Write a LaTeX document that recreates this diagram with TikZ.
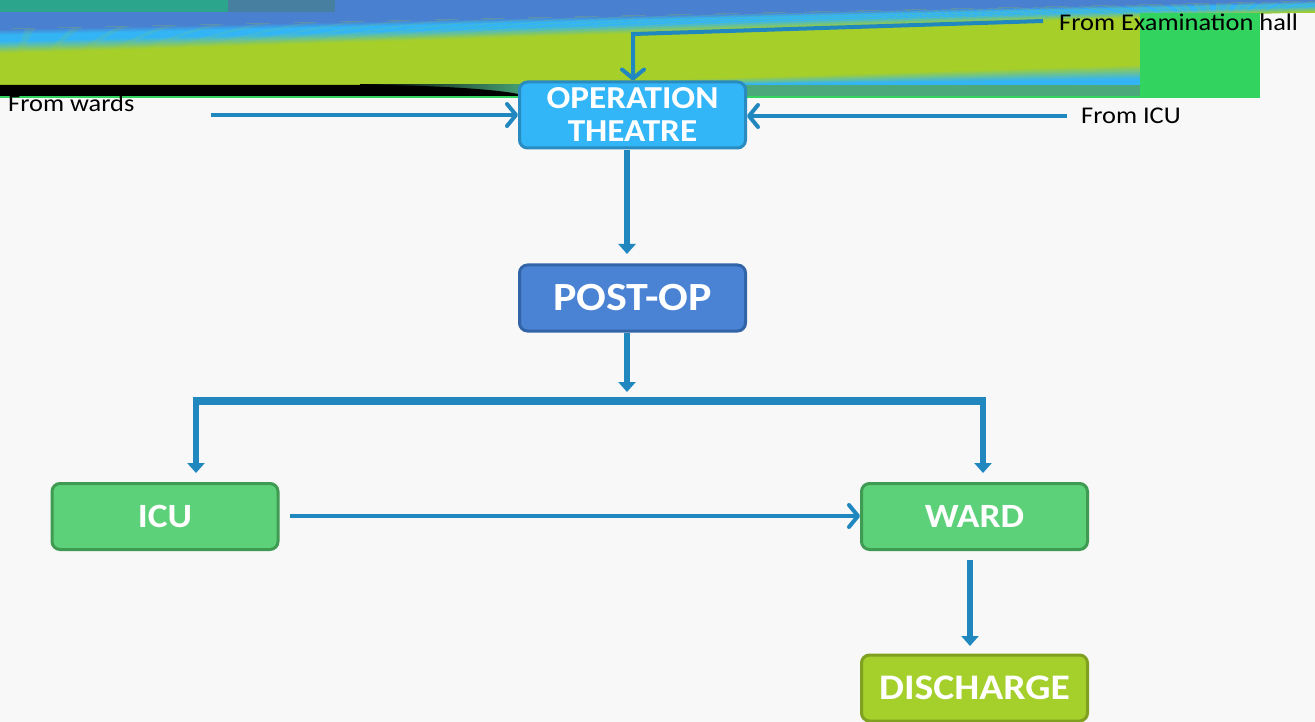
\documentclass[tikz,border=0pt]{standalone}
\usepackage{fontspec}
\setmainfont[FakeStretch=1.1]{Carlito}
\usetikzlibrary{arrows.meta}
\definecolor{bgc}{HTML}{F8F8F8}
\definecolor{ygreen}{HTML}{A6CF2A}
\definecolor{bandblue}{HTML}{4A80D0}
\definecolor{bandcyan}{HTML}{33B5F5}
\definecolor{tealA}{HTML}{2BA58B}
\definecolor{tealB}{HTML}{467FA0}
\definecolor{sqgreen}{HTML}{33D35F}
\definecolor{stripg}{HTML}{4AA87A}
\definecolor{conn}{HTML}{2188BF}
\definecolor{otfill}{HTML}{33B6F7}
\definecolor{otdraw}{HTML}{2A8BC0}
\definecolor{pofill}{HTML}{4A82D4}
\definecolor{podraw}{HTML}{3264A8}
\definecolor{gfill}{HTML}{5CD17A}
\definecolor{gdraw}{HTML}{3F9A52}
\definecolor{dfill}{HTML}{A5CF2A}
\definecolor{ddraw}{HTML}{7FA020}
\begin{document}
\begin{tikzpicture}[x=1pt,y=-1pt,
  box/.style={rounded corners=8pt, line width=3pt, minimum width=226pt, minimum height=66pt,
     text=white, font=\fontsize{34}{34}\selectfont\bfseries, align=center, inner sep=0pt},
  lbl/.style={font=\fontsize{24}{24}\selectfont, text=black, inner sep=0pt},
  chev/.style={conn, line width=4.5pt, -{Straight Barb[length=9pt,width=22pt,line width=4pt,round]}},
  tri/.style={conn, line width=6pt, -{Triangle[length=10pt,width=17pt]}}]
\useasboundingbox (0,0) rectangle (1315,722);
\fill[bgc] (0,0) rectangle (1315,722);
% banner
\fill[ygreen] (0,0) rectangle (1140,85);
\fill[ygreen] (0,0) rectangle (1315,13);
\fill[bandblue] (0,0) -- (1315,0) -- (1315,1) -- (0,29) -- cycle;
\foreach \i in {0,...,23}{
  \pgfmathsetmacro{\ta}{\i/24}
  \pgfmathsetmacro{\tb}{(\i+1.3)/24}
  \pgfmathsetmacro{\la}{29+24*\ta}
  \pgfmathsetmacro{\lb}{29+24*\tb}
  \pgfmathsetmacro{\ra}{1+11*\ta}
  \pgfmathsetmacro{\rb}{1+11*\tb}
  \pgfmathsetmacro{\pc}{\ta<0.25 ? 100*\ta/0.25 : (\ta<0.5 ? 100 : 100*(1-(\ta-0.5)/0.5))}
  \ifnum\i<6
    \colorlet{cc}{bandcyan!\pc!bandblue}
  \else
    \colorlet{cc}{bandcyan!\pc!ygreen}
  \fi
  \fill[cc] (0,\la) -- (1315,\ra) -- (1315,\rb) -- (0,\lb) -- cycle;
}
\fill[tealA] (0,0) rectangle (228,12);
\fill[tealB] (228,0) rectangle (335,12);
\foreach \i in {0,...,11}{
  \pgfmathsetmacro{\ya}{64+\i*1.75}
  \pgfmathsetmacro{\xa}{500+\i*20}
  \pgfmathsetmacro{\pc}{min(100,\i*12)}
  \colorlet{cc}{bandcyan!\pc!ygreen}
  \fill[cc] (\xa,85) -- (1140,\ya) -- (1140,85) -- cycle;
}
\fill[stripg] (0,85) rectangle (1140,96);
\shade[left color=black, right color=stripg] (360,85) rectangle (530,96);
\fill[black] (0,85) -- (380,85) .. controls (450,86) and (500,90) .. (518,94) -- (518,96) -- (0,96) -- cycle;
\fill[sqgreen] (1140,13) rectangle (1260,97);
\fill[sqgreen] (0,96) rectangle (1260,98);
% nodes
\node[box, fill=otfill, draw=otdraw, font=\fontsize{32}{32}\selectfont\bfseries] (ot) at (632.5,115) {OPERATION\\[1pt]THEATRE};
\node[box, fill=pofill, draw=podraw, font=\fontsize{40}{40}\selectfont\bfseries] (po) at (632.5,298) {POST-OP};
\node[box, fill=gfill, draw=gdraw] (icu) at (165,516.5) {ICU};
\node[box, fill=gfill, draw=gdraw] (ward) at (974.5,516.5) {WARD};
\node[box, fill=dfill, draw=ddraw, font=\fontsize{36}{36}\selectfont\bfseries] (dis) at (974.5,688) {DISCHARGE};
% labels
\node[lbl, anchor=west] (lexam) at (1059,22) {From Examination hall};
\node[lbl, anchor=west] (lwards) at (8,103) {From wards};
\node[lbl, anchor=west] (licu) at (1081,116) {From ICU};
% connectors
\coordinate (e1) at (1043,21);
\coordinate (e2) at (633,34);
\coordinate (w1) at (211,115);
\coordinate (i1) at (1067,116);
\draw[chev, line width=4pt] (e1) -- (e2) -- (ot.north -| e2);
\draw[chev] (w1) -- (ot.west |- w1);
\draw[chev] (i1) -- (ot.east |- i1);
\draw[tri] (627,150) -- (627,254);
\coordinate (p1) at (627,392);
\draw[tri] (627,333) -- (p1);
\coordinate (bl) at (196,401);
\coordinate (br) at (983,401);
\draw[conn, line width=8pt] (bl) -- (br);
\draw[tri] (196,397) -- (196,473);
\draw[tri] (983,397) -- (983,473);
\draw[chev] (290,516) -- (ward.west |- 0,516);
\draw[tri] (970,560) -- (970,646);
\end{tikzpicture}
\end{document}
